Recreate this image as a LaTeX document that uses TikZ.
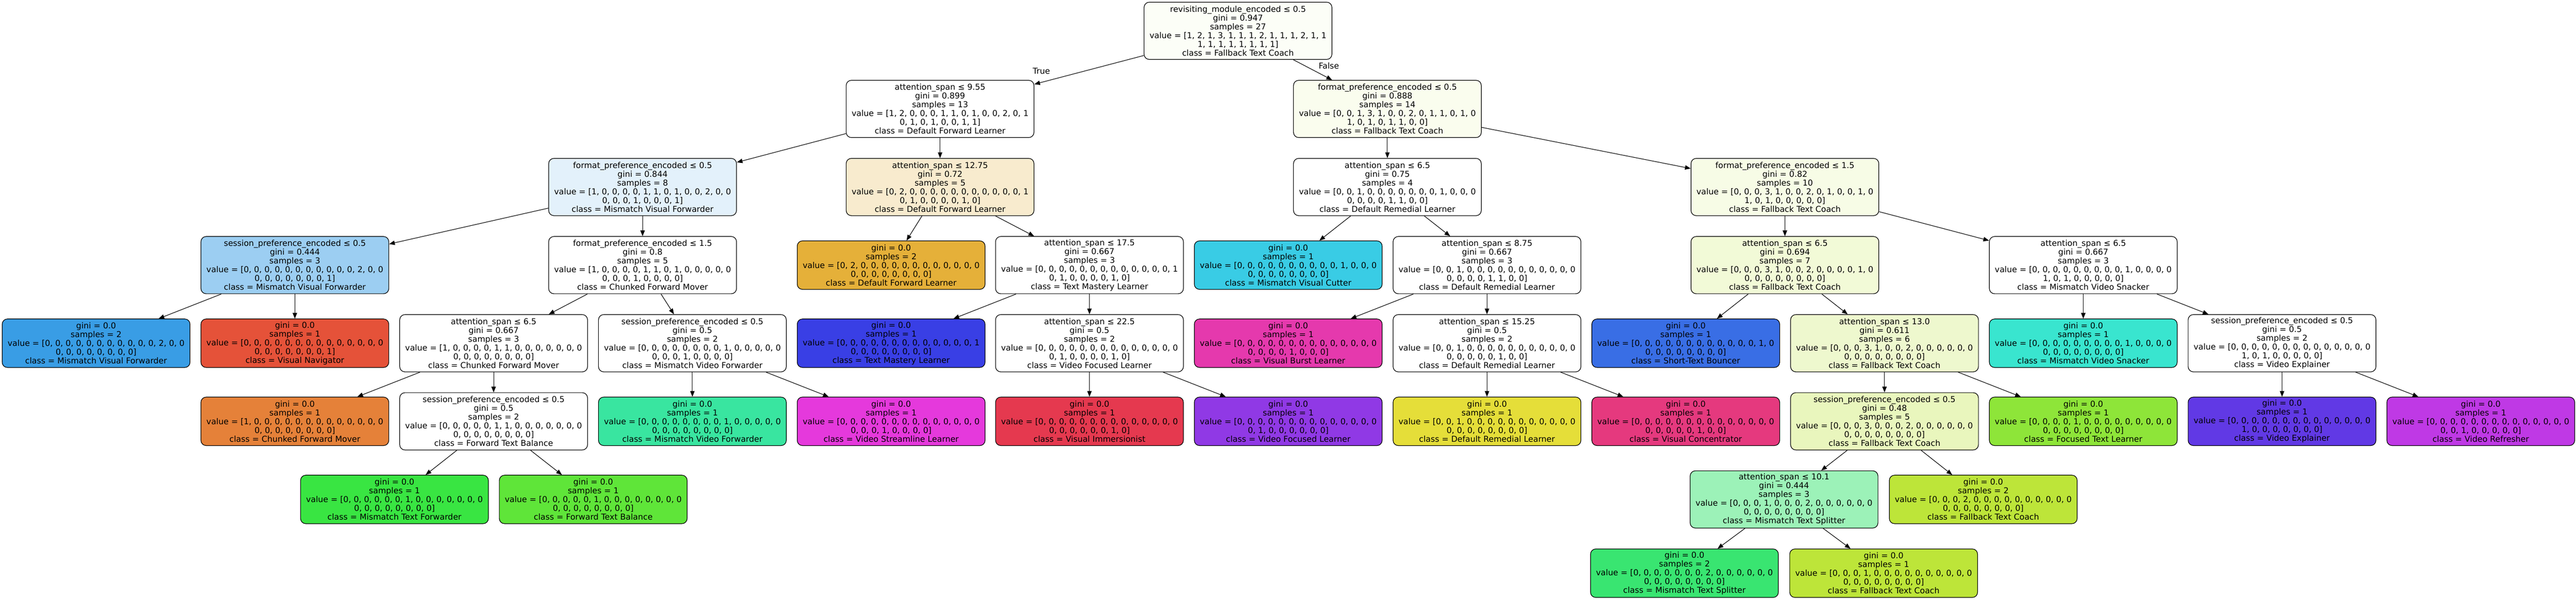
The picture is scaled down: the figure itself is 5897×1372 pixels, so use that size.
\documentclass[tikz,border=0pt]{standalone}
\usepackage{fontspec}
\setmainfont{DejaVu Sans}
\usetikzlibrary{arrows.meta}

% class colours
\definecolor{cCFM}{HTML}{E58139}
\definecolor{cDFL}{HTML}{E5B039}
\definecolor{cDRL}{HTML}{E5DE39}
\definecolor{cFTC}{HTML}{BDE539}
\definecolor{cFTL}{HTML}{8EE539}
\definecolor{cFTB}{HTML}{5FE539}
\definecolor{cMTF}{HTML}{39E542}
\definecolor{cMTS}{HTML}{39E571}
\definecolor{cMVidF}{HTML}{39E5A0}
\definecolor{cMVS}{HTML}{39E5CF}
\definecolor{cMVC}{HTML}{39CCE5}
\definecolor{cMVF}{HTML}{399DE5}
\definecolor{cSTB}{HTML}{396EE5}
\definecolor{cTML}{HTML}{393FE5}
\definecolor{cVE}{HTML}{6139E5}
\definecolor{cVFL}{HTML}{9039E5}
\definecolor{cVR}{HTML}{BF39E5}
\definecolor{cVSL}{HTML}{E539DC}
\definecolor{cVBL}{HTML}{E539AD}
\definecolor{cVC}{HTML}{E5397E}
\definecolor{cVI}{HTML}{E5394F}
\definecolor{cVN}{HTML}{E55239}
% mixed splits
\definecolor{cRoot}{HTML}{FCFEF7}
\definecolor{cFmtR}{HTML}{FAFDEE}
\definecolor{cFmtL}{HTML}{E3F1FB}
\definecolor{cAttB}{HTML}{F8EBCE}
\definecolor{cFmtB}{HTML}{F7FCE6}
\definecolor{cSessL}{HTML}{9CCEF2}
\definecolor{cAttS}{HTML}{F2FAD7}
\definecolor{cAttT}{HTML}{EEF8CE}
\definecolor{cSessF}{HTML}{E9F6BD}
\definecolor{cAttX}{HTML}{9CF2B8}

\def\zz{0, 0, 0, 0, 0, 0, 0, 0, 0, 0, 0, 0, 0, 0}
\def\zy{0, 0, 0, 0, 0, 0, 0, 0]}

\begin{document}
\begin{tikzpicture}
  [x=0.5pt, y=-0.5pt,
   split/.style={draw, rounded corners=6pt, inner sep=0pt, line width=0.7pt,
     minimum width=215pt, minimum height=65.5pt, align=center,
     font={\fontsize{9.3}{10}\selectfont}},
   leaf/.style={split, minimum height=55.5pt},
   edge/.style={-{Triangle[length=6.5pt,width=5pt]}, line width=0.65pt}]
  \useasboundingbox (0,0) rectangle (5897,1372);
  % rows of the tree
  \def \rowa {70.5}
  \def \rowb {249.2}
  \def \rowc {427.9}
  \def \rowd {606.6}
  \def \rowe {785.3}
  \def \rowf {964}
  \def \rowg {1142.7}
  \def \rowh {1311.5}

  \node[split, fill=cRoot] (root) at (2834,\rowa) {revisiting\_module\_encoded ≤ 0.5\\gini = 0.947\\samples = 27\\value = [1, 2, 1, 3, 1, 1, 1, 2, 1, 1, 1, 2, 1, 1\\1, 1, 1, 1, 1, 1, 1, 1]\\class = Fallback Text Coach};

  \node[split, fill=white] (n1) at (2152,\rowb) {attention\_span ≤ 9.55\\gini = 0.899\\samples = 13\\value = [1, 2, 0, 0, 0, 1, 1, 0, 1, 0, 0, 2, 0, 1\\0, 1, 0, 1, 0, 0, 1, 1]\\class = Default Forward Learner};
  \node[split, fill=cFmtR] (n2) at (3176,\rowb) {format\_preference\_encoded ≤ 0.5\\gini = 0.888\\samples = 14\\value = [0, 0, 1, 3, 1, 0, 0, 2, 0, 1, 1, 0, 1, 0\\1, 0, 1, 0, 1, 1, 0, 0]\\class = Fallback Text Coach};

  \node[split, fill=cFmtL] (fmtL) at (1471,\rowc) {format\_preference\_encoded ≤ 0.5\\gini = 0.844\\samples = 8\\value = [1, 0, 0, 0, 0, 1, 1, 0, 1, 0, 0, 2, 0, 0\\0, 0, 0, 1, 0, 0, 0, 1]\\class = Mismatch Visual Forwarder};
  \node[split, fill=cAttB] (attB) at (2152,\rowc) {attention\_span ≤ 12.75\\gini = 0.72\\samples = 5\\value = [0, 2, 0, 0, 0, 0, 0, 0, 0, 0, 0, 0, 0, 1\\0, 1, 0, 0, 0, 0, 1, 0]\\class = Default Forward Learner};
  \node[split, fill=white] (attR) at (3176,\rowc) {attention\_span ≤ 6.5\\gini = 0.75\\samples = 4\\value = [0, 0, 1, 0, 0, 0, 0, 0, 0, 0, 1, 0, 0, 0\\0, 0, 0, 0, 1, 1, 0, 0]\\class = Default Remedial Learner};
  \node[split, fill=cFmtB] (fmtB) at (4086,\rowc) {format\_preference\_encoded ≤ 1.5\\gini = 0.82\\samples = 10\\value = [0, 0, 0, 3, 1, 0, 0, 2, 0, 1, 0, 0, 1, 0\\1, 0, 1, 0, 0, 0, 0, 0]\\class = Fallback Text Coach};

  \node[split, fill=cSessL] (sessL) at (675,\rowd) {session\_preference\_encoded ≤ 0.5\\gini = 0.444\\samples = 3\\value = [0, 0, 0, 0, 0, 0, 0, 0, 0, 0, 0, 2, 0, 0\\0, 0, 0, 0, 0, 0, 0, 1]\\class = Mismatch Visual Forwarder};
  \node[split, fill=white] (fmtC) at (1471,\rowd) {format\_preference\_encoded ≤ 1.5\\gini = 0.8\\samples = 5\\value = [1, 0, 0, 0, 0, 1, 1, 0, 1, 0, 0, 0, 0, 0\\0, 0, 0, 1, 0, 0, 0, 0]\\class = Chunked Forward Mover};
  \node[leaf, fill=cDFL] (lDFL) at (2040,\rowd) {gini = 0.0\\samples = 2\\value = [0, 2, 0, 0, 0, 0, 0, 0, 0, 0, 0, 0, 0, 0\\\zy\\class = Default Forward Learner};
  \node[split, fill=white] (attM) at (2494,\rowd) {attention\_span ≤ 17.5\\gini = 0.667\\samples = 3\\value = [0, 0, 0, 0, 0, 0, 0, 0, 0, 0, 0, 0, 0, 1\\0, 1, 0, 0, 0, 0, 1, 0]\\class = Text Mastery Learner};
  \node[leaf, fill=cMVC] (lMVC) at (2949,\rowd) {gini = 0.0\\samples = 1\\value = [0, 0, 0, 0, 0, 0, 0, 0, 0, 0, 1, 0, 0, 0\\\zy\\class = Mismatch Visual Cutter};
  \node[split, fill=white] (attD) at (3404,\rowd) {attention\_span ≤ 8.75\\gini = 0.667\\samples = 3\\value = [0, 0, 1, 0, 0, 0, 0, 0, 0, 0, 0, 0, 0, 0\\0, 0, 0, 0, 1, 1, 0, 0]\\class = Default Remedial Learner};
  \node[split, fill=cAttS] (attS) at (4086,\rowd) {attention\_span ≤ 6.5\\gini = 0.694\\samples = 7\\value = [0, 0, 0, 3, 1, 0, 0, 2, 0, 0, 0, 0, 1, 0\\\zy\\class = Fallback Text Coach};
  \node[split, fill=white] (attV) at (4769,\rowd) {attention\_span ≤ 6.5\\gini = 0.667\\samples = 3\\value = [0, 0, 0, 0, 0, 0, 0, 0, 0, 1, 0, 0, 0, 0\\1, 0, 1, 0, 0, 0, 0, 0]\\class = Mismatch Video Snacker};

  \node[leaf, fill=cMVF] (lMVF) at (220,\rowe) {gini = 0.0\\samples = 2\\value = [0, 0, 0, 0, 0, 0, 0, 0, 0, 0, 0, 2, 0, 0\\\zy\\class = Mismatch Visual Forwarder};
  \node[leaf, fill=cVN] (lVN) at (675,\rowe) {gini = 0.0\\samples = 1\\value = [\zz\\0, 0, 0, 0, 0, 0, 0, 1]\\class = Visual Navigator};
  \node[split, fill=white] (attC) at (1130,\rowe) {attention\_span ≤ 6.5\\gini = 0.667\\samples = 3\\value = [1, 0, 0, 0, 0, 1, 1, 0, 0, 0, 0, 0, 0, 0\\\zy\\class = Chunked Forward Mover};
  \node[split, fill=white] (sessV) at (1585,\rowe) {session\_preference\_encoded ≤ 0.5\\gini = 0.5\\samples = 2\\value = [0, 0, 0, 0, 0, 0, 0, 0, 1, 0, 0, 0, 0, 0\\0, 0, 0, 1, 0, 0, 0, 0]\\class = Mismatch Video Forwarder};
  \node[leaf, fill=cTML] (lTML) at (2040,\rowe) {gini = 0.0\\samples = 1\\value = [0, 0, 0, 0, 0, 0, 0, 0, 0, 0, 0, 0, 0, 1\\\zy\\class = Text Mastery Learner};
  \node[split, fill=white] (attF) at (2494,\rowe) {attention\_span ≤ 22.5\\gini = 0.5\\samples = 2\\value = [\zz\\0, 1, 0, 0, 0, 0, 1, 0]\\class = Video Focused Learner};
  \node[leaf, fill=cVBL] (lVBL) at (2949,\rowe) {gini = 0.0\\samples = 1\\value = [\zz\\0, 0, 0, 0, 1, 0, 0, 0]\\class = Visual Burst Learner};
  \node[split, fill=white] (attE) at (3404,\rowe) {attention\_span ≤ 15.25\\gini = 0.5\\samples = 2\\value = [0, 0, 1, 0, 0, 0, 0, 0, 0, 0, 0, 0, 0, 0\\0, 0, 0, 0, 0, 1, 0, 0]\\class = Default Remedial Learner};
  \node[leaf, fill=cSTB] (lSTB) at (3859,\rowe) {gini = 0.0\\samples = 1\\value = [0, 0, 0, 0, 0, 0, 0, 0, 0, 0, 0, 0, 1, 0\\\zy\\class = Short-Text Bouncer};
  \node[split, fill=cAttT] (attT) at (4314,\rowe) {attention\_span ≤ 13.0\\gini = 0.611\\samples = 6\\value = [0, 0, 0, 3, 1, 0, 0, 2, 0, 0, 0, 0, 0, 0\\\zy\\class = Fallback Text Coach};
  \node[leaf, fill=cMVS] (lMVS) at (4769,\rowe) {gini = 0.0\\samples = 1\\value = [0, 0, 0, 0, 0, 0, 0, 0, 0, 1, 0, 0, 0, 0\\\zy\\class = Mismatch Video Snacker};
  \node[split, fill=white] (sessE) at (5224,\rowe) {session\_preference\_encoded ≤ 0.5\\gini = 0.5\\samples = 2\\value = [\zz\\1, 0, 1, 0, 0, 0, 0, 0]\\class = Video Explainer};

  \node[leaf, fill=cCFM] (lCFM) at (675,\rowf) {gini = 0.0\\samples = 1\\value = [1, 0, 0, 0, 0, 0, 0, 0, 0, 0, 0, 0, 0, 0\\\zy\\class = Chunked Forward Mover};
  \node[split, fill=white] (sessT) at (1130,\rowf) {session\_preference\_encoded ≤ 0.5\\gini = 0.5\\samples = 2\\value = [0, 0, 0, 0, 0, 1, 1, 0, 0, 0, 0, 0, 0, 0\\\zy\\class = Forward Text Balance};
  \node[leaf, fill=cMVidF] (lMVidF) at (1585,\rowf) {gini = 0.0\\samples = 1\\value = [0, 0, 0, 0, 0, 0, 0, 0, 1, 0, 0, 0, 0, 0\\\zy\\class = Mismatch Video Forwarder};
  \node[leaf, fill=cVSL] (lVSL) at (2040,\rowf) {gini = 0.0\\samples = 1\\value = [\zz\\0, 0, 0, 1, 0, 0, 0, 0]\\class = Video Streamline Learner};
  \node[leaf, fill=cVI] (lVI) at (2494,\rowf) {gini = 0.0\\samples = 1\\value = [\zz\\0, 0, 0, 0, 0, 0, 1, 0]\\class = Visual Immersionist};
  \node[leaf, fill=cVFL] (lVFL) at (2949,\rowf) {gini = 0.0\\samples = 1\\value = [\zz\\0, 1, 0, 0, 0, 0, 0, 0]\\class = Video Focused Learner};
  \node[leaf, fill=cDRL] (lDRL) at (3404,\rowf) {gini = 0.0\\samples = 1\\value = [0, 0, 1, 0, 0, 0, 0, 0, 0, 0, 0, 0, 0, 0\\\zy\\class = Default Remedial Learner};
  \node[leaf, fill=cVC] (lVC) at (3859,\rowf) {gini = 0.0\\samples = 1\\value = [\zz\\0, 0, 0, 0, 0, 1, 0, 0]\\class = Visual Concentrator};
  \node[split, fill=cSessF] (sessF) at (4314,\rowf) {session\_preference\_encoded ≤ 0.5\\gini = 0.48\\samples = 5\\value = [0, 0, 0, 3, 0, 0, 0, 2, 0, 0, 0, 0, 0, 0\\\zy\\class = Fallback Text Coach};
  \node[leaf, fill=cFTL] (lFTL) at (4769,\rowf) {gini = 0.0\\samples = 1\\value = [0, 0, 0, 0, 1, 0, 0, 0, 0, 0, 0, 0, 0, 0\\\zy\\class = Focused Text Learner};
  \node[leaf, fill=cVE] (lVE) at (5224,\rowf) {gini = 0.0\\samples = 1\\value = [\zz\\1, 0, 0, 0, 0, 0, 0, 0]\\class = Video Explainer};
  \node[leaf, fill=cVR] (lVR) at (5679,\rowf) {gini = 0.0\\samples = 1\\value = [\zz\\0, 0, 1, 0, 0, 0, 0, 0]\\class = Video Refresher};

  \node[leaf, fill=cMTF] (lMTF) at (903,\rowg) {gini = 0.0\\samples = 1\\value = [0, 0, 0, 0, 0, 0, 1, 0, 0, 0, 0, 0, 0, 0\\\zy\\class = Mismatch Text Forwarder};
  \node[leaf, fill=cFTB] (lFTB) at (1358,\rowg) {gini = 0.0\\samples = 1\\value = [0, 0, 0, 0, 0, 1, 0, 0, 0, 0, 0, 0, 0, 0\\\zy\\class = Forward Text Balance};
  \node[split, fill=cAttX] (attX) at (4084,\rowg) {attention\_span ≤ 10.1\\gini = 0.444\\samples = 3\\value = [0, 0, 0, 1, 0, 0, 0, 2, 0, 0, 0, 0, 0, 0\\\zy\\class = Mismatch Text Splitter};
  \node[leaf, fill=cFTC] (lFTCb) at (4540,\rowg) {gini = 0.0\\samples = 2\\value = [0, 0, 0, 2, 0, 0, 0, 0, 0, 0, 0, 0, 0, 0\\\zy\\class = Fallback Text Coach};

  \node[leaf, fill=cMTS] (lMTS) at (3856,\rowh) {gini = 0.0\\samples = 2\\value = [0, 0, 0, 0, 0, 0, 0, 2, 0, 0, 0, 0, 0, 0\\\zy\\class = Mismatch Text Splitter};
  \node[leaf, fill=cFTC] (lFTCa) at (4312,\rowh) {gini = 0.0\\samples = 1\\value = [0, 0, 0, 1, 0, 0, 0, 0, 0, 0, 0, 0, 0, 0\\\zy\\class = Fallback Text Coach};

  \foreach \a/\b in {root/n1, root/n2, n1/fmtL, n1/attB, n2/attR, n2/fmtB,
      fmtL/sessL, fmtL/fmtC, attB/lDFL, attB/attM, attR/lMVC, attR/attD,
      fmtB/attS, fmtB/attV, sessL/lMVF, sessL/lVN, fmtC/attC, fmtC/sessV,
      attM/lTML, attM/attF, attD/lVBL, attD/attE, attS/lSTB, attS/attT,
      attV/lMVS, attV/sessE, attC/lCFM, attC/sessT, sessV/lMVidF, sessV/lVSL,
      attF/lVI, attF/lVFL, attE/lDRL, attE/lVC, attT/sessF, attT/lFTL,
      sessE/lVE, sessE/lVR, sessT/lMTF, sessT/lFTB, sessF/attX, sessF/lFTCb,
      attX/lMTS, attX/lFTCa}
    \draw[edge] (\a) -- (\b);

  \node[font={\fontsize{9.3}{10}\selectfont}] (lblTrue) at (2384,163) {True};
  \node[font={\fontsize{9.3}{10}\selectfont}] (lblFalse) at (3042,151) {False};
\end{tikzpicture}
\end{document}
